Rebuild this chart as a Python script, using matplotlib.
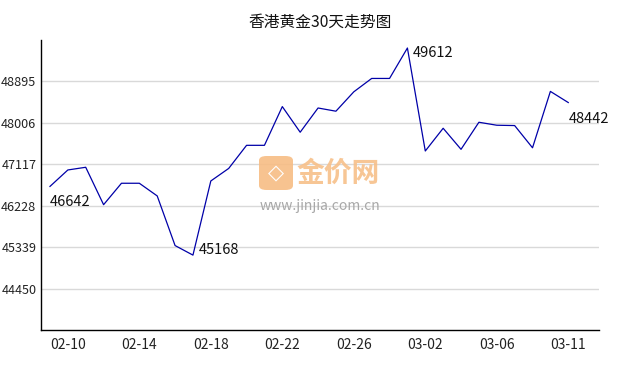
import matplotlib
matplotlib.use("Agg")
import matplotlib.pyplot as plt
from matplotlib.patches import FancyBboxPatch

plt.rcParams['font.family'] = ['Noto Sans CJK SC', 'DejaVu Sans']

title = "香港黄金30天走势图"
dates = ['02-09', '02-10', '02-11', '02-12', '02-13', '02-14', '02-15', '02-16',
         '02-17', '02-18', '02-19', '02-20', '02-21', '02-22', '02-23', '02-24',
         '02-25', '02-26', '02-27', '02-28', '03-01', '03-02', '03-03', '03-04',
         '03-05', '03-06', '03-07', '03-08', '03-10', '03-11']
prices = [46642, 46995, 47053, 46250, 46710, 46710, 46438, 45373, 45168, 46759,
          47028, 47524, 47524, 48355, 47805, 48325, 48256, 48672, 48959, 48959,
          49612, 47402, 47890, 47438, 48019, 47955, 47948, 47471, 48681, 48442]
y_ticks = [44450, 45339, 46228, 47117, 48006, 48895]
y_range = [43561, 49784]
x_tick_idx = [1, 5, 9, 13, 17, 21, 25, 29]
x_tick_labels = [dates[i] for i in x_tick_idx]

fig = plt.figure(figsize=(6.38, 3.70), dpi=100)
ax = fig.add_axes([40.5/638, 1-330/370, (599-40.5)/638, (330-40)/370])

x = list(range(len(prices)))
ax.plot(x, prices, color='#0000a8', linewidth=0.9, zorder=3)

ax.set_xlim(-0.53, 30.72)
ax.set_ylim(*y_range)
ax.set_yticks(y_ticks)
ax.set_yticklabels([str(v) for v in y_ticks], fontsize=9.1, color='#222222')
ax.set_xticks(x_tick_idx)
ax.set_xticklabels(x_tick_labels, fontsize=10, color='#222222')
ax.tick_params(axis='both', length=0)
ax.tick_params(axis='y', pad=3)
ax.tick_params(axis='x', pad=6)
ax.grid(axis='y', color='#d9d9d9', linewidth=1.0)
ax.set_axisbelow(True)
for s in ['top', 'right']:
    ax.spines[s].set_visible(False)
for s in ['left', 'bottom']:
    ax.spines[s].set_color('#000000')
    ax.spines[s].set_linewidth(1.0)

# annotations: first, min, max, last
imin = prices.index(min(prices))
imax = prices.index(max(prices))
ann = [(0, (0, -16)), (imin, (6, 5)), (imax, (5, -5)), (len(prices)-1, (0, -16))]
for i, off in ann:
    ax.annotate(str(prices[i]), (i, prices[i]), xytext=off, textcoords='offset pixels',
                ha='left', va='center', fontsize=10.5, color='#111111', zorder=4)

fig.text(320/638, 1-22/370, title, ha='center', va='center', fontsize=11.3, color='#111111')

# watermark
logo = FancyBboxPatch((259/638, 1-190/370), 34/638, 34/370,
                      boxstyle="round,pad=0,rounding_size=0.012",
                      transform=fig.transFigure, facecolor='#f7bd84', edgecolor='none',
                      alpha=0.9, zorder=1)
fig.patches.append(logo)
fig.text(276/638, 1-173/370, "◇", ha='center', va='center', fontsize=15,
         color='white', fontweight='bold', family=['DejaVu Sans'], zorder=2)
fig.text(338/638, 1-174/370, "金价网", ha='center', va='center', fontsize=20,
         color='#f7c08a', fontweight='bold', alpha=0.9, zorder=2)
fig.text(320/638, 1-206/370, "www.jinjia.com.cn", ha='center', va='center',
         fontsize=10, color='#a8a8a8', zorder=2)

fig.savefig("out.png", dpi=100)
